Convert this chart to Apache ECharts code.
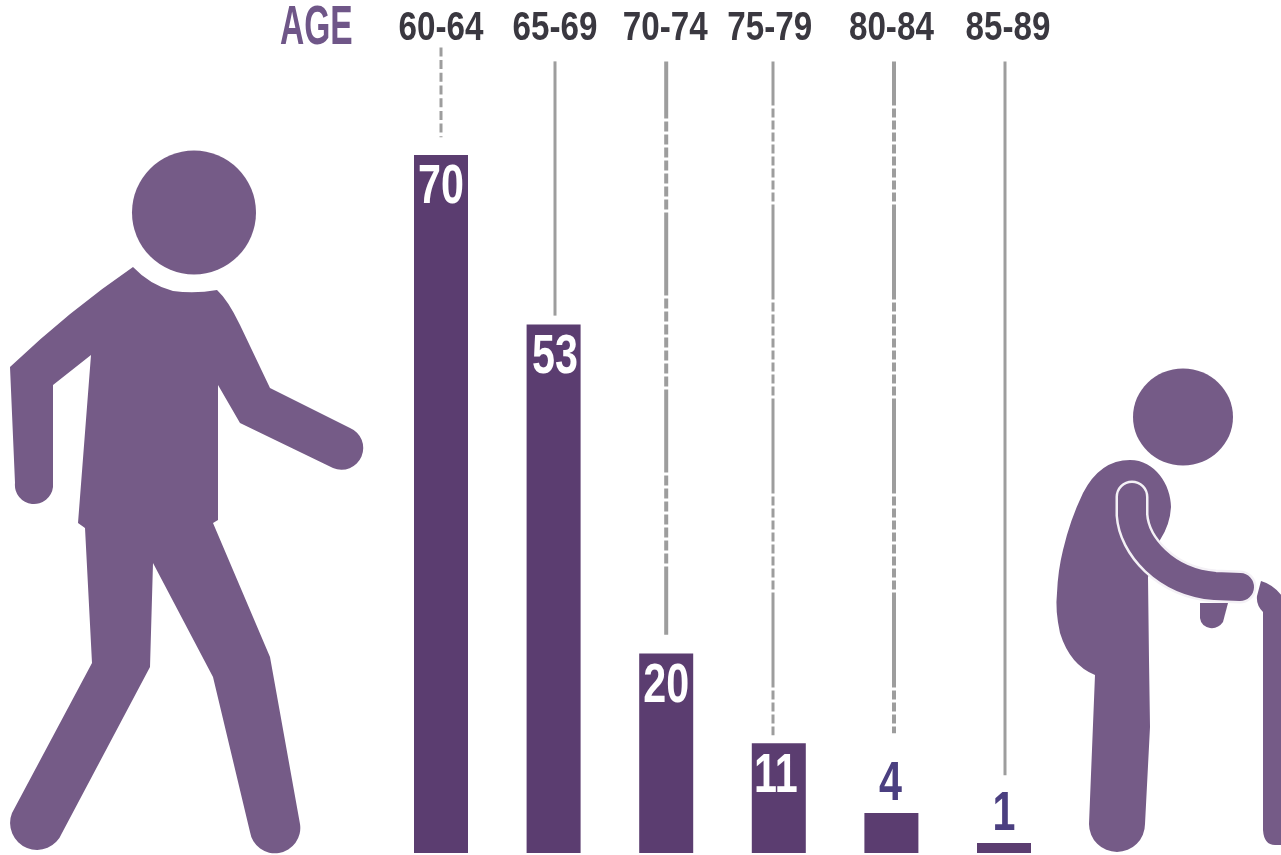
<!DOCTYPE html>
<html><head><meta charset="utf-8">
<style>html,body{margin:0;padding:0;background:#fff}#c{width:1281px;height:855px}</style>
<script src="https://cdn.jsdelivr.net/npm/echarts@6/dist/echarts.min.js"></script>
</head><body><div id="c"></div>
<script>
const ageGroups = ['60-64','65-69','70-74','75-79','80-84','85-89'];
const counts = [70,53,20,11,4,1];
const leaderEnds = [71.8,53.9,21.9,11.8,12,7.8];
const leaderStarts = [80.8,79.4,79.4,79.4,79.4,79.4];

const labelShift = [0,1.4,-1,-9,0,4];
const leaderShift = [0,1.4,0,-5.8,2.6,1];
const valueShift = [0,1.4,0,-3,-1,0];
const burst7 = [83,3,10,3,10,3,10,3,10,3,10,3,10,3,10,3];
const burst8 = [95,3,9,3,9,3,9,3,9,3,9,3,9,3,9,3,9,3];
const leaderDash = [[9,3.7],null,burst7,burst8,burst8,null];
const leaderDashOffset = [0,0,26,51,51,0];
const leaderWidth = [3,3,4,3,4,3];
const FONT = '"Liberation Sans",sans-serif';
const BAR = '#5b3d70', ICON = '#755b87', LINE = '#9d9d9d';

const walker = 'M133 267 Q150 285 173 291 Q195 294 217 290 Q228 300 240 325 L270 388 L350 428 A20 20 0 0 1 333 468 L240 423 L218 385 L218 520 L213 523 L270 657 L300 824 A25 25 0 0 1 250 832 L213 677 L153 563 L150 667 L62 833 A26 26 0 0 1 12 813 L92 663 L85 528 L78 523 L91 355 L53 385 L53 487 A19 19 0 0 1 15 483 L10 367 Q70 310 133 267 Z';
const elderBody = 'M1130 460 C1155 460 1171 485 1171 507 Q1170 525 1160 540 L1148 577 L1149 660 L1150 727 L1145 824 A28 28 0 0 1 1089 824 L1095 675 Q1070 665 1060 633 Q1055 610 1057 593 Q1058 570 1063 550 Q1070 520 1083 493 Q1100 460 1130 460 Z';
const elderArm = 'M1132 497 L1132 515 C1134 545 1165 582 1215 586 L1240 587';
const elderHand = 'M1200 603 L1228 603 L1223 622 Q1218 629 1210 628 Q1201 626 1200 618 Z';
const elderCane = 'M1261 581 Q1275 585 1285 600 L1285 845 L1275 845 Q1264 845 1263 830 L1263 612 Q1256 605 1257 596 Z';

function pathG(d, style) { return {type:'path', shape:{pathData:d}, style}; }

const chart = echarts.init(document.getElementById('c'), null, {renderer:'canvas'});
chart.setOption({
  animation:false,
  backgroundColor:'#fff',
  grid:{left:384.7,width:675.6,top:55.4,height:797.6},
  xAxis:{type:'category',position:'top',data:ageGroups,
    axisLine:{show:false},axisTick:{show:false},splitLine:{show:false},axisLabel:{show:false}},
  yAxis:{type:'value',min:0,max:80,show:false,splitLine:{show:false}},
  series:[
    {type:'bar',barWidth:54,itemStyle:{color:BAR},label:{show:false},data:counts},
    {type:'custom',silent:true,z:1,
     data:leaderEnds.map((e,i)=>[i,e,leaderStarts[i]]),
     renderItem:(p,api)=>{
       const i=api.value(0);
       const a=api.coord([i,api.value(1)]), b=api.coord([i,api.value(2)]);
       const x=a[0]+leaderShift[i];
       return {type:'line',shape:{x1:x,y1:b[1],x2:x,y2:a[1]},
         style:{stroke:LINE,lineWidth:leaderWidth[i],lineDash:leaderDash[i]||'solid',
           lineDashOffset:leaderDashOffset[i],fill:null}};
     }},
    {type:'custom',silent:true,z:3,
     data:ageGroups.map((g,i)=>[i,0]),
     renderItem:(p,api)=>{
       const i=api.value(0), c=api.coord([i,0]);
       return {type:'text',x:c[0]+labelShift[i],y:29,scaleX:0.81,
         style:{text:ageGroups[i],align:'center',verticalAlign:'middle',
           fontFamily:FONT,fontWeight:'bold',fontSize:41,fill:'#3a3840'}};
     }},
    {type:'custom',silent:true,z:3,
     data:counts.map((v,i)=>[i,v]),
     renderItem:(p,api)=>{
       const i=api.value(0), v=api.value(1), c=api.coord([i,v]);
       const inside=v>=10;
       return {type:'text',x:c[0]+valueShift[i],y:c[1]+(inside?33:-28),scaleX:0.75,
         style:{text:String(v),align:'center',verticalAlign:'middle',
           fontFamily:FONT,fontWeight:'bold',fontSize:55,fill:inside?'#fff':'#4b3f80'}};
     }},
    {type:'custom',coordinateSystem:'none',silent:true,z:1,data:[0],
     renderItem:()=>({type:'group',children:[
       {type:'circle',shape:{cx:194,cy:212.5,r:62},style:{fill:ICON}},
       pathG(walker,{fill:ICON}),
       {type:'ellipse',shape:{cx:1183,cy:417,rx:50,ry:48.5},style:{fill:ICON}},
       pathG(elderBody,{fill:ICON}),
       pathG(elderArm,{fill:null,stroke:'#f4f1f6',lineWidth:33,lineCap:'round',lineJoin:'round'}),
       pathG(elderArm,{fill:null,stroke:ICON,lineWidth:28,lineCap:'round',lineJoin:'round'}),
       pathG(elderHand,{fill:ICON}),
       pathG(elderCane,{fill:ICON})
     ]})}
  ],
  graphic:[
    {type:'text',x:280,y:1,silent:true,scaleX:0.61,
     style:{text:'AGE',fontFamily:FONT,fontWeight:'bold',fontSize:55,fill:'#6f5688'}}
  ]
});
</script></body></html>
